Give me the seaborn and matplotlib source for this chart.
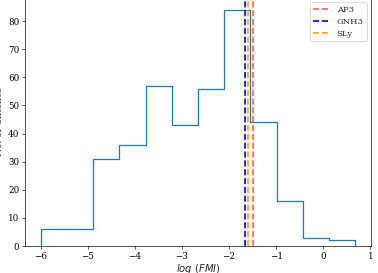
import numpy as np
import pandas as pd
import matplotlib
matplotlib.use("Agg")
import matplotlib.pyplot as plt
import seaborn as sns

# histogram of log(FMI), 12 equal bins from -6 to 0.68
bin_edges = list(np.linspace(-6.0, 0.68, 13))
glitch_counts = [6, 6, 31, 36, 57, 43, 56, 84, 44, 16, 3, 2]

# log(FMI) of the equations of state
eos_names = ['AP3', 'GNH3', 'SLy']
eos_values = [-1.50, -1.67, -1.59]
eos_colors = ['tomato', 'blue', 'orange']

sns.set_style("ticks", {"axes.edgecolor": "black", "xtick.color": "black",
                        "ytick.color": "black"})
plt.rcParams['font.family'] = 'serif'
plt.rcParams['mathtext.fontset'] = 'dejavusans'

df = pd.DataFrame({
    'logfmi': [(a + b) / 2 for a, b in zip(bin_edges[:-1], bin_edges[1:])],
    'count': glitch_counts,
})

fig = plt.figure(figsize=(378 / 60, 273 / 60), dpi=60)
ax = fig.add_axes([25 / 378, 27 / 273, 346 / 378, 248 / 273])

sns.histplot(data=df, x='logfmi', weights='count', bins=bin_edges,
             element="step", fill=False, color='C0', linewidth=1.5, ax=ax)
# closing drops at both ends, like a step histogram
ax.vlines([bin_edges[0], bin_edges[-1]], 0, [glitch_counts[0], glitch_counts[-1]],
          color='C0', linewidth=1.5)

for name, val, col in zip(eos_names, eos_values, eos_colors):
    ax.axvline(val, color=col, linestyle='--', linewidth=2, label=name)

ax.set_ylim(bottom=0)
ax.tick_params(labelsize=10.5)
ax.set_xlabel(r'$log\ (FMI)$', fontsize=12, labelpad=2)
ax.set_ylabel('No. of Glitches', fontsize=11)
ax.legend(loc='upper right')

fig.savefig('out.png', dpi=60)
